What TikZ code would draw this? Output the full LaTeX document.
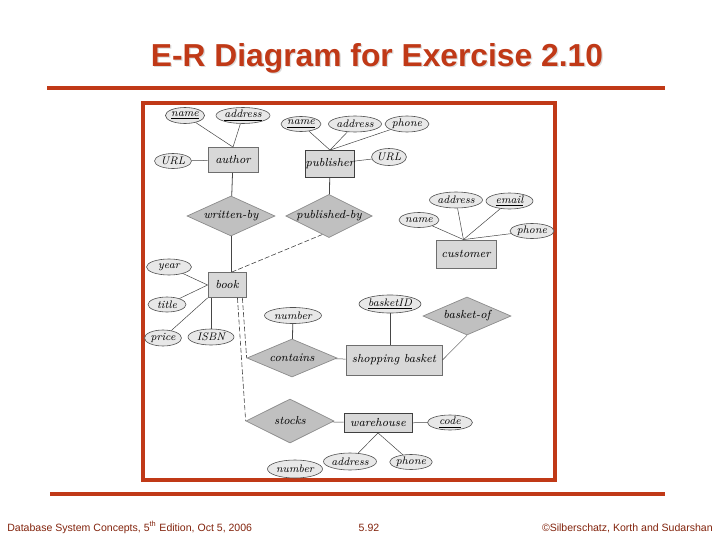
\documentclass[tikz,border=0pt]{standalone}
\usepackage{fontspec}
\newfontfamily\sansf{Liberation Sans}
\usetikzlibrary{shapes.geometric}
\definecolor{sred}{RGB}{192,57,23}
\definecolor{footc}{RGB}{130,35,12}
\definecolor{entf}{RGB}{216,216,216}
\definecolor{entb}{RGB}{110,110,110}
\definecolor{relf}{RGB}{192,192,192}
\definecolor{relb}{RGB}{140,140,140}
\definecolor{attf}{RGB}{232,232,232}
\definecolor{attb}{RGB}{80,80,80}
\definecolor{lnc}{RGB}{70,70,70}
\def\pxu{0.25mm}
\tikzset{
  ent/.style 2 args={rectangle, draw=entb, line width=0.8*\pxu, fill=entf, minimum width=#1*\pxu, minimum height=#2*\pxu, inner sep=0pt},
  rel/.style 2 args={diamond, draw=relb, line width=0.7*\pxu, fill=relf, minimum width=#1*\pxu, minimum height=#2*\pxu, inner sep=0pt, aspect=2},
  attr/.style 2 args={ellipse, draw=attb, line width=0.6*\pxu, fill=attf, minimum width=#1*\pxu, minimum height=#2*\pxu, inner sep=0pt, font=\itshape\fontsize{7.8}{9}\selectfont},
  conn/.style={draw=lnc, line width=0.8*\pxu},
  thin conn/.style={draw=lnc, line width=0.5*\pxu},
  dconn/.style={draw=lnc, line width=0.6*\pxu, dash pattern=on 3.5pt off 1.6pt},
  titlefont/.style={font=\sansf\bfseries\upshape\fontsize{22.6}{26}\selectfont},
  footfont/.style={font=\sansf\upshape\fontsize{7.5}{9}\selectfont, text=footc, inner sep=0pt}
}
\begin{document}
\begin{tikzpicture}[x=0.25mm,y=-0.25mm, font=\itshape\fontsize{8.3}{10}\selectfont]
\useasboundingbox (0,0) rectangle (720,540);
\fill[white] (0,0) rectangle (720,540);

% title
\node[titlefont, text=black!14, anchor=base, inner sep=0pt] (tshadow) at (378.2,67.2) {E-R Diagram for Exercise 2.10};
\node[titlefont, text=sred, anchor=base, inner sep=0pt] (title) at (377,66) {E-R Diagram for Exercise 2.10};

% rules and frame
\draw[sred, line width=4*\pxu] (47,88) -- (665,88);
\draw[sred, line width=4.5*\pxu] (50,494) -- (665,494);
\draw[sred, line width=3.5*\pxu] (143,103) rectangle (555,480);

% footer
\node[footfont, anchor=base west] (f1) at (7,531) {Database System Concepts, 5\textsuperscript{th} Edition, Oct 5, 2006};
\node[footfont, anchor=base] (f2) at (369,531) {5.92};
\node[footfont, anchor=base east] (f3) at (713,531) {©Silberschatz, Korth and Sudarshan};

% entities
\node[ent={50}{25}] (author) at (233,160) {author};
\node[ent={49}{27}, draw=black!75] (publisher) at (330,164) {publisher};
\node[ent={60}{28}] (customer) at (466,254) {customer};
\node[ent={38}{25}] (book) at (227,285) {book};
\node[ent={96}{30}] (sb) at (394,360) {shopping basket};
\node[ent={68}{19}, draw=black!75] (wh) at (378,423) {warehouse};

% relationships
\node[rel={88}{40}] (wb) at (231,216) {written-by};
\node[rel={86}{40}] (pb) at (329,216) {published-by};
\node[rel={88}{38}] (bo) at (467,316) {basket-of};
\node[rel={90}{38}] (co) at (292,358) {contains};
\node[rel={88}{44}] (st) at (290,421) {stocks};

% attributes
\node[attr={39}{16}] (aname) at (185,115.5) {\underline{name}};
\node[attr={54}{16}] (aaddr) at (243,115.5) {\underline{address}};
\node[attr={37}{15}] (aurl) at (173,161) {URL};
\node[attr={40}{15}] (pname) at (301,124) {\underline{name}};
\node[attr={50}{16}] (paddr) at (355,124) {address};
\node[attr={44}{16}] (pphone) at (407,124) {phone};
\node[attr={33}{17}] (purl) at (389,157) {URL};
\node[attr={51}{16}] (caddr) at (456,200) {address};
\node[attr={47}{16}] (cemail) at (509.5,201) {\underline{email}};
\node[attr={40}{15}] (cname) at (419,220) {name};
\node[attr={44}{15}] (cphone) at (532,231) {phone};
\node[attr={45}{16}] (year) at (169,267) {year};
\node[attr={38}{15}] (btitle) at (167,304.5) {title};
\node[attr={37}{16}] (price) at (163,338) {price};
\node[attr={46}{16}] (isbn) at (211,337) {ISBN};
\node[attr={57}{16}] (cnum) at (293,315.5) {number};
\node[attr={56}{18}] (bid) at (390,304) {\underline{basketID}};
\node[attr={45}{15}] (code) at (450,422.5) {\underline{code}};
\node[attr={47}{17}] (waddr) at (350,461.5) {address};
\node[attr={42}{15}] (wphone) at (411,462) {phone};
\node[attr={55}{18}] (snum) at (295,469) {number};

% connectors
\draw[thin conn] (aname) -- (author.north);
\draw[thin conn] (aaddr) -- (author.north);
\draw[thin conn] (aurl) -- (author);
\draw[conn] (author) -- (wb);
\draw[conn] (wb.south) -- (wb.south |- book.north);
\draw[thin conn] (pname) -- (publisher.north);
\draw[thin conn] (paddr) -- (publisher.north);
\draw[thin conn] (pphone) -- (publisher.north);
\draw[thin conn] (purl) -- (publisher);
\draw[conn] (publisher) -- (pb);
\draw[dconn] (pb.250) -- (book.70);
\draw[thin conn] (caddr) -- (customer.100);
\draw[thin conn] (cemail) -- (customer.100);
\draw[thin conn] (cname) -- (customer.100);
\draw[thin conn] (cphone) -- (customer.100);
\draw[thin conn] (year) -- (book.west);
\draw[thin conn] (btitle) -- (book.west);
\draw[thin conn] (price) -- (book.south west);
\draw[conn] (isbn) -- (isbn |- book.south);
\draw[dconn] (book.-51) -- (st.west);
\draw[dconn] (book.-40) -- (co.west);
\draw[conn] (cnum) -- (co);
\draw[thin conn] (co) -- (sb);
\draw[conn] (bid) -- (bid |- sb.north);
\draw[thin conn] (sb.east) -- (bo.south);
\draw[thin conn] (st) -- (wh);
\draw[thin conn] (wh) -- (code);
\draw[thin conn] (wh.south) -- (waddr);
\draw[thin conn] (wh.south) -- (wphone);
\end{tikzpicture}
\end{document}
